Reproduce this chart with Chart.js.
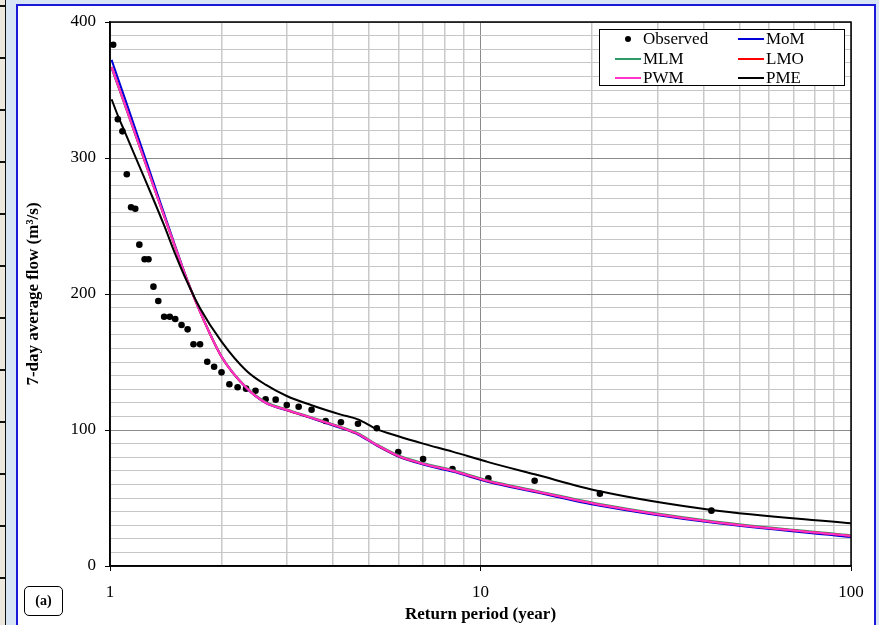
<!DOCTYPE html>
<html>
<head>
<meta charset="utf-8">
<script src="https://cdn.jsdelivr.net/npm/chart.js@4.4.0/dist/chart.umd.min.js"></script>
<style>
  html, body { margin: 0; padding: 0; }
  body {
    width: 879px; height: 625px; overflow: hidden; position: relative;
    background: #d7e5f4;
    font-family: "Liberation Serif", "Times New Roman", serif;
  }
  #strip {
    position: absolute; left: 0; top: 0; width: 5px; height: 625px;
    background: repeating-linear-gradient(to bottom, #ece8dd 0px, #ece8dd 5px, #111 5px, #111 7px, #ece8dd 7px, #ece8dd 52px);
    border-right: 1.5px solid #111;
  }
  #frame {
    position: absolute; left: 16px; top: 4px; width: 860px; height: 660px;
    box-sizing: border-box; background: #fff; border: 2px solid #1a1ad8;
  }
  #chart { position: absolute; left: 0; top: 0; }
  #legend {
    position: absolute; left: 599px; top: 29px; width: 246px; height: 57px;
    box-sizing: border-box; border: 1px solid #000; background: #fff;
  }
  .item { position: absolute; height: 20px; font-size: 17px; line-height: 20px; color: #000; white-space: nowrap; }
  .sym { position: absolute; left: 0; top: 0; width: 26px; height: 20px; }
  .sym .line { position: absolute; left: 0; top: 9px; width: 26px; height: 2px; }
  .sym .dot { position: absolute; left: 10px; top: 7px; width: 6px; height: 6px; border-radius: 50%; background: #000; }
  .item .txt { position: absolute; left: 28px; top: 0; }
  #tag {
    position: absolute; left: 24px; top: 586px; width: 39px; height: 30px;
    box-sizing: border-box; border: 1.5px solid #000; border-radius: 5px;
    font-weight: bold; font-size: 14px; line-height: 27px; text-align: center;
  }
</style>
</head>
<body>
<div id="strip"></div>
<div id="frame"></div>
<canvas id="chart" width="879" height="625"></canvas>
<div id="legend"></div>
<div id="tag">(a)</div>
<script>
// Dados observados (período de retorno em anos, vazão em m3/s)
const returnPeriod = [1.02, 1.05, 1.08, 1.11, 1.14, 1.17, 1.2, 1.24, 1.27, 1.31, 1.35,
    1.4, 1.45, 1.5, 1.56, 1.62, 1.68, 1.75, 1.83, 1.91, 2.0, 2.1, 2.21, 2.33, 2.47,
    2.63, 2.8, 3.0, 3.23, 3.5, 3.82, 4.2, 4.67, 5.25, 6.0, 7.0, 8.4, 10.5, 14.0, 21.0, 42.0];
const observedFlow = [383.3, 328.5, 319.6, 288.0, 263.8, 262.7, 236.3, 225.5, 225.5, 205.4, 194.9,
    183.3, 183.3, 181.6, 177.2, 174.0, 163.0, 163.0, 150.2, 146.5, 142.4, 133.6, 131.4, 130.4, 128.9,
    122.6, 122.3, 118.4, 117.1, 114.9, 106.6, 105.7, 104.6, 101.3, 83.8, 78.7, 71.3, 64.5, 62.7, 53.2, 40.7];

// Curvas ajustadas
const curvePeriod = [1.01, 1.05, 1.1, 1.2, 1.3, 1.4, 1.5, 1.6, 1.75, 2, 2.33, 2.63, 3,
    3.5, 4.2, 4.67, 5.25, 6, 7, 8.4, 10.5, 14, 21, 42, 100];
const momFlow = [372.1, 358.7, 342.9, 312.8, 284.9, 259.1, 235.3, 213.6, 187.0, 153.8, 131.0, 119.9, 114.4,
    108.6, 101.4, 96.7, 88.5, 80.5, 74.6, 69.4, 61.7, 54.4, 44.3, 31.9, 21.3];
const mlmFlow = [365.9, 353.2, 337.8, 308.7, 281.9, 257.2, 234.4, 213.3, 187.2, 154.3, 131.6, 120.6, 115.2,
    109.4, 102.3, 97.6, 89.4, 81.5, 75.7, 70.6, 62.9, 55.6, 45.6, 33.1, 22.5];
const lmoFlow = [367.0, 354.0, 338.4, 309.0, 282.0, 257.2, 234.3, 213.1, 186.9, 153.9, 131.2, 120.1, 114.7,
    108.9, 101.8, 97.1, 88.9, 80.9, 75.1, 70.0, 62.3, 55.0, 45.0, 32.5, 22.0];
const pwmFlow = [366.7, 353.8, 338.3, 309.0, 282.1, 257.3, 234.4, 213.2, 187.0, 154.0, 131.3, 120.2, 114.8,
    109.0, 101.9, 97.2, 89.0, 81.0, 75.2, 70.1, 62.4, 55.1, 45.1, 32.6, 22.1];
const pmeFlow = [343.2, 331.2, 318.3, 294.0, 271.7, 250.4, 229.4, 211.4, 189.5, 165.0, 143.8, 133.3, 125.0,
    118.2, 111.3, 107.8, 100.6, 95.4, 90.0, 84.1, 76.4, 67.4, 54.9, 41.2, 31.4];

// Eixos
const xTickLabels = [1, 10, 100];
const yTickLabels = [0, 100, 200, 300, 400];

const serif = '"Liberation Serif", "Times New Roman", serif';
Chart.defaults.font.family = serif;
Chart.defaults.color = '#000';

function pontos(xs, ys) {
    return xs.map((x, i) => ({ x: x, y: ys[i] }));
}

function curva(label, ys, cor, ordem) {
    return {
        label: label,
        data: pontos(curvePeriod, ys),
        showLine: true,
        borderColor: cor,
        backgroundColor: cor,
        borderWidth: 2,
        pointRadius: 0,
        cubicInterpolationMode: 'monotone',
        order: ordem
    };
}

const datasets = [
    {
        label: 'Observed',
        data: pontos(returnPeriod, observedFlow),
        pointRadius: 3.3,
        pointBackgroundColor: '#000',
        pointBorderWidth: 0,
        backgroundColor: '#000',
        order: 6
    },
    curva('MoM', momFlow, '#0000d8', 5),
    curva('MLM', mlmFlow, '#2e9a68', 4),
    curva('LMO', lmoFlow, '#ff0000', 3),
    curva('PWM', pwmFlow, '#ff33cc', 2),
    curva('PME', pmeFlow, '#000000', 1)
];

// linhas de grade menores do eixo log
const xGrid = [];
[1, 10].forEach(d => { for (let k = 1; k < 10; k++) xGrid.push(k * d); });
xGrid.push(100);

const bordaPlot = {
    id: 'bordaPlot',
    afterDraw(chart) {
        const a = chart.chartArea;
        const ctx = chart.ctx;
        ctx.save();
        ctx.strokeStyle = '#000';
        ctx.lineWidth = 1.5;
        ctx.strokeRect(a.left, a.top, a.right - a.left, a.bottom - a.top);
        ctx.restore();
    }
};

const chart = new Chart(document.getElementById('chart'), {
    type: 'scatter',
    data: { datasets: datasets },
    options: {
        responsive: false,
        animation: false,
        layout: { padding: { left: 0, top: 22, right: 28, bottom: 0 } },
        plugins: {
            legend: { display: false },
            tooltip: { enabled: false }
        },
        scales: {
            x: {
                type: 'logarithmic',
                min: 1,
                max: 100,
                afterBuildTicks: scale => { scale.ticks = xGrid.map(v => ({ value: v })); },
                afterFit: scale => { scale.height = 59; },
                ticks: {
                    autoSkip: false,
                    maxRotation: 0,
                    padding: 11,
                    font: { size: 17 },
                    callback: v => xTickLabels.includes(v) ? String(v) : ''
                },
                grid: {
                    color: c => xTickLabels.includes(c.tick.value) ? '#8a8a8a' : '#c9c9c9',
                    tickColor: c => xTickLabels.includes(c.tick.value) ? '#000' : 'rgba(0,0,0,0)',
                    lineWidth: c => xTickLabels.includes(c.tick.value) ? 1 : 1.5,
                    tickLength: 5
                },
                border: { color: '#000', width: 1.5 },
                title: {
                    display: true,
                    text: 'Return period (year)',
                    font: { size: 17, weight: 'bold' },
                    padding: { top: 0, bottom: 0 }
                }
            },
            y: {
                min: 0,
                max: 400,
                afterFit: scale => { scale.width = 110; },
                ticks: {
                    stepSize: 10,
                    autoSkip: false,
                    padding: 9,
                    font: { size: 17 },
                    callback: v => yTickLabels.includes(v) ? String(v) : ''
                },
                grid: {
                    color: c => yTickLabels.includes(c.tick.value) ? '#8a8a8a' : '#c6c6c6',
                    tickColor: c => yTickLabels.includes(c.tick.value) ? '#000' : 'rgba(0,0,0,0)',
                    tickLength: 5,
                    lineWidth: 1
                },
                border: { color: '#000', width: 1.5 },
                title: {
                    display: true,
                    text: '7-day average flow (m³/s)',
                    font: { size: 17, weight: 'bold' },
                    padding: { top: 23, bottom: 0 }
                }
            }
        }
    },
    plugins: [bordaPlot]
});

// Legenda em duas colunas (montada a partir dos datasets)
const legenda = document.getElementById('legend');
const colX = [15, 138];
const linhaY = [-1, 19, 38];
datasets.forEach((ds, i) => {
    const item = document.createElement('div');
    item.className = 'item';
    item.style.left = colX[i % 2] + 'px';
    item.style.top = linhaY[Math.floor(i / 2)] + 'px';
    const sym = document.createElement('span');
    sym.className = 'sym';
    const marca = document.createElement('span');
    if (ds.showLine) {
        marca.className = 'line';
        marca.style.background = ds.borderColor;
    } else {
        marca.className = 'dot';
    }
    sym.appendChild(marca);
    const txt = document.createElement('span');
    txt.className = 'txt';
    txt.textContent = ds.label;
    item.appendChild(sym);
    item.appendChild(txt);
    legenda.appendChild(item);
});
</script>
</body>
</html>
